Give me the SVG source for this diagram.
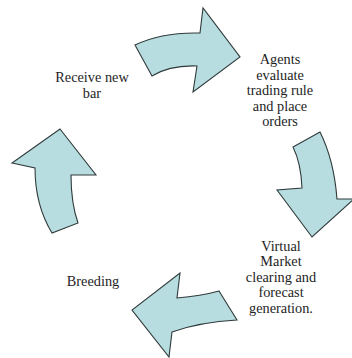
<svg xmlns="http://www.w3.org/2000/svg" width="352" height="358" viewBox="0 0 352 358">
  <style>
    .arrow { fill: #b8dde0; stroke: #2f3a3a; stroke-width: 1.1; stroke-linejoin: miter; }
    .label { font-size: 14.3px; fill: #1e1e1e; text-anchor: middle; }
  </style>
  <rect width="352" height="358" fill="#ffffff"/>

  <!-- curved block arrows forming the cycle -->
  <g id="connectors">
    <path id="arrow-top" class="arrow" d="M135,45 Q162,32 200,33 L203,8 L240,57 L193,92 L197,66 Q170,65 152,76 Z"/>
    <path id="arrow-right" class="arrow" d="M293,147 L320,132 Q334,160 337,199 L354,199 L312,237 L277,190 L302,188 Q301,163 293,147 Z"/>
    <path id="arrow-bottom" class="arrow" d="M219,291 L237,320 Q200,322 172,332 L169,357 L132,310 L180,273 L177,298 Q201,296 219,291 Z"/>
    <path id="arrow-left" class="arrow" d="M60,129 L96,175 L71,175 Q71,203 78,223 L52,233 Q35,205 35,168 L12,163 Z"/>
  </g>

  <g font-family="Liberation Serif, serif">
    <g id="node-receive">
      <text class="label" x="92" y="81.5">Receive new</text>
      <text class="label" x="92" y="98">bar</text>
    </g>

    <g id="node-agents">
      <text class="label" x="280" y="64">Agents</text>
      <text class="label" x="280" y="79.5">evaluate</text>
      <text class="label" x="280" y="95">trading rule</text>
      <text class="label" x="280" y="110.5">and place</text>
      <text class="label" x="280" y="126">orders</text>
    </g>

    <g id="node-market">
      <text class="label" x="281" y="250.5">Virtual</text>
      <text class="label" x="281" y="266">Market</text>
      <text class="label" x="281" y="281.5">clearing and</text>
      <text class="label" x="281" y="297">forecast</text>
      <text class="label" x="281" y="312.5">generation.</text>
    </g>

    <g id="node-breeding">
      <text class="label" x="93" y="286">Breeding</text>
    </g>
  </g>
</svg>
